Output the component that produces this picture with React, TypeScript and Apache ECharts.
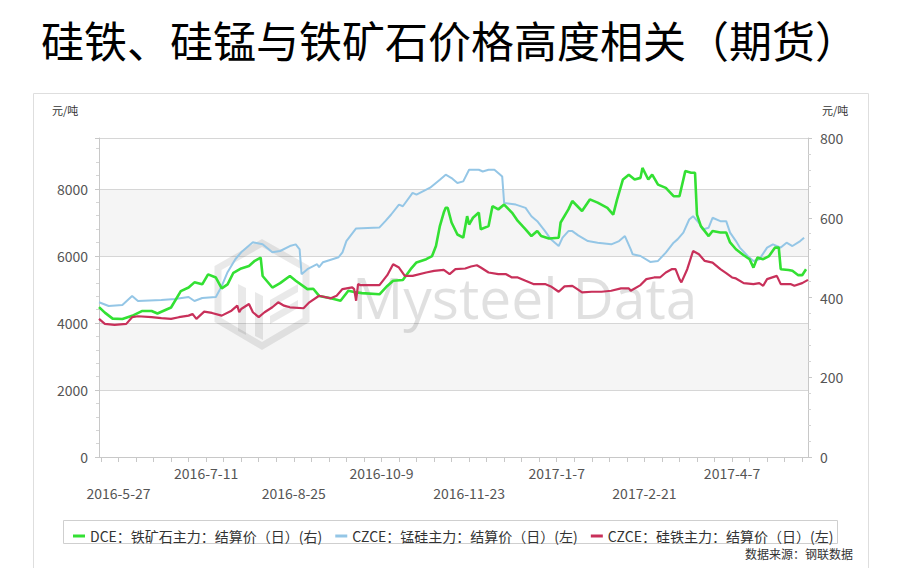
import React, { useEffect, useRef } from 'react';
import * as echarts from 'echarts';

const titleText = '硅铁、硅锰与铁矿石价格高度相关（期货）';
const unitText = '元/吨';
const sourceText = '数据来源：钢联数据';
const watermarkText = 'Mysteel Data';
const axisStartDate = '2016-05-17';
const axisDayCount = 365;
const labelDates = ['2016-5-27', '2016-7-11', '2016-8-25', '2016-10-9', '2016-11-23', '2017-1-7', '2017-2-21', '2017-4-7'];
const lowerRowDates = ['2016-5-27', '2016-8-25', '2016-11-23', '2017-2-21'];
const tickStepDays = 9;

const seriesNames = [
  'DCE：铁矿石主力：结算价（日）(右)',
  'CZCE：锰硅主力：结算价（日）(左)',
  'CZCE：硅铁主力：结算价（日）(左)',
];

// DCE iron ore main contract settlement (right axis)
const ironOre: [string, number][] = [
  ['2016-5-17', 376], ['2016-5-20', 362], ['2016-5-24', 347], ['2016-5-29', 346], ['2016-6-3', 354],
  ['2016-6-8', 366], ['2016-6-13', 366], ['2016-6-16', 360], ['2016-6-23', 375], ['2016-6-28', 416],
  ['2016-7-2', 425], ['2016-7-5', 438], ['2016-7-9', 433], ['2016-7-12', 458], ['2016-7-16', 450],
  ['2016-7-19', 423], ['2016-7-22', 433], ['2016-7-25', 462], ['2016-7-29', 473], ['2016-8-2', 479],
  ['2016-8-5', 492], ['2016-8-8', 500], ['2016-8-9', 454], ['2016-8-14', 425], ['2016-8-18', 436],
  ['2016-8-23', 454], ['2016-8-26', 442], ['2016-9-1', 421], ['2016-9-4', 422], ['2016-9-7', 404],
  ['2016-9-13', 398], ['2016-9-18', 392], ['2016-9-22', 417], ['2016-9-25', 414], ['2016-9-29', 411],
  ['2016-10-8', 408], ['2016-10-12', 429], ['2016-10-15', 442], ['2016-10-20', 444], ['2016-10-24', 471],
  ['2016-10-27', 488], ['2016-11-1', 496], ['2016-11-4', 504], ['2016-11-6', 529], ['2016-11-8', 579],
  ['2016-11-10', 613], ['2016-11-11', 625], ['2016-11-12', 625], ['2016-11-14', 588], ['2016-11-17', 558],
  ['2016-11-20', 550], ['2016-11-22', 604], ['2016-11-23', 583], ['2016-11-25', 600], ['2016-11-28', 613],
  ['2016-11-29', 571], ['2016-12-3', 579], ['2016-12-5', 629], ['2016-12-8', 621], ['2016-12-11', 633],
  ['2016-12-15', 613], ['2016-12-18', 592], ['2016-12-22', 571], ['2016-12-25', 554], ['2016-12-28', 567],
  ['2016-12-30', 554], ['2017-1-3', 548], ['2017-1-8', 550], ['2017-1-9', 588], ['2017-1-13', 621],
  ['2017-1-15', 642], ['2017-1-20', 617], ['2017-1-24', 646], ['2017-1-28', 638], ['2017-2-2', 625],
  ['2017-2-5', 608], ['2017-2-7', 646], ['2017-2-10', 696], ['2017-2-13', 708], ['2017-2-16', 696],
  ['2017-2-19', 700], ['2017-2-20', 725], ['2017-2-23', 696], ['2017-2-25', 708], ['2017-2-28', 683],
  ['2017-3-4', 675], ['2017-3-8', 654], ['2017-3-11', 654], ['2017-3-14', 717], ['2017-3-17', 713],
  ['2017-3-19', 713], ['2017-3-20', 608], ['2017-3-22', 579], ['2017-3-26', 554], ['2017-3-28', 567],
  ['2017-4-1', 563], ['2017-4-4', 563], ['2017-4-6', 538], ['2017-4-9', 521], ['2017-4-13', 506],
  ['2017-4-16', 496], ['2017-4-18', 475], ['2017-4-20', 500], ['2017-4-23', 496], ['2017-4-26', 504],
  ['2017-4-29', 525], ['2017-5-1', 525], ['2017-5-2', 471], ['2017-5-6', 469], ['2017-5-8', 467],
  ['2017-5-11', 456], ['2017-5-13', 456], ['2017-5-15', 471],
];

// CZCE silico-manganese main contract settlement (left axis)
const siliconManganese: [string, number][] = [
  ['2016-5-17', 4617], ['2016-5-22', 4507], ['2016-5-29', 4537], ['2016-6-3', 4804], ['2016-6-6', 4655],
  ['2016-6-18', 4685], ['2016-6-25', 4714], ['2016-7-2', 4774], ['2016-7-5', 4655], ['2016-7-9', 4744],
  ['2016-7-16', 4774], ['2016-7-19', 5100], ['2016-7-22', 5516], ['2016-7-26', 5901], ['2016-7-29', 6109],
  ['2016-8-4', 6406], ['2016-8-9', 6347], ['2016-8-14', 6109], ['2016-8-18', 6148], ['2016-8-23', 6296],
  ['2016-8-26', 6346], ['2016-8-28', 6198], ['2016-8-29', 5456], ['2016-9-1', 5605], ['2016-9-6', 5753],
  ['2016-9-7', 5664], ['2016-9-9', 5813], ['2016-9-17', 5961], ['2016-9-19', 6109], ['2016-9-21', 6444],
  ['2016-9-26', 6821], ['2016-10-8', 6851], ['2016-10-11', 7038], ['2016-10-14', 7237], ['2016-10-18', 7533],
  ['2016-10-20', 7483], ['2016-10-25', 7880], ['2016-10-27', 7830], ['2016-11-3', 8038], ['2016-11-8', 8275],
  ['2016-11-11', 8424], ['2016-11-14', 8325], ['2016-11-17', 8177], ['2016-11-20', 8225], ['2016-11-23', 8572],
  ['2016-11-28', 8572], ['2016-11-30', 8521], ['2016-12-3', 8572], ['2016-12-6', 8572], ['2016-12-9', 8424],
  ['2016-12-10', 8373], ['2016-12-11', 7584], ['2016-12-17', 7533], ['2016-12-22', 7435], ['2016-12-25', 7186],
  ['2016-12-28', 7038], ['2017-1-1', 6741], ['2017-1-4', 6495], ['2017-1-8', 6296], ['2017-1-10', 6545],
  ['2017-1-13', 6741], ['2017-1-15', 6741], ['2017-1-18', 6614], ['2017-1-23', 6444], ['2017-1-28', 6397],
  ['2017-2-4', 6347], ['2017-2-8', 6444], ['2017-2-11', 6593], ['2017-2-14', 6198], ['2017-2-15', 6050],
  ['2017-2-19', 5999], ['2017-2-24', 5821], ['2017-2-28', 5851], ['2017-3-4', 6100], ['2017-3-8', 6397],
  ['2017-3-10', 6495], ['2017-3-13', 6694], ['2017-3-16', 7088], ['2017-3-18', 7186], ['2017-3-21', 6990],
  ['2017-3-23', 6791], ['2017-3-26', 6842], ['2017-3-28', 7139], ['2017-4-1', 7038], ['2017-4-4', 7038],
  ['2017-4-6', 6694], ['2017-4-9', 6444], ['2017-4-11', 6249], ['2017-4-15', 5999], ['2017-4-18', 5851],
  ['2017-4-21', 5901], ['2017-4-25', 6249], ['2017-4-28', 6346], ['2017-5-2', 6249], ['2017-5-5', 6397],
  ['2017-5-8', 6296], ['2017-5-12', 6444], ['2017-5-14', 6545],
];

// CZCE ferro-silicon main contract settlement (left axis)
const ferroSilicon: [string, number][] = [
  ['2016-5-17', 4121], ['2016-5-20', 3973], ['2016-5-25', 3943], ['2016-5-31', 3973], ['2016-6-3', 4172],
  ['2016-6-6', 4201], ['2016-6-13', 4172], ['2016-6-18', 4142], ['2016-6-23', 4121], ['2016-6-27', 4172],
  ['2016-7-2', 4219], ['2016-7-4', 4270], ['2016-7-6', 4121], ['2016-7-10', 4338], ['2016-7-14', 4299],
  ['2016-7-19', 4219], ['2016-7-24', 4367], ['2016-7-27', 4516], ['2016-7-28', 4320], ['2016-7-29', 4418],
  ['2016-8-2', 4566], ['2016-8-4', 4320], ['2016-8-7', 4172], ['2016-8-10', 4320], ['2016-8-14', 4468],
  ['2016-8-17', 4617], ['2016-8-20', 4516], ['2016-8-23', 4468], ['2016-8-30', 4439], ['2016-9-2', 4617],
  ['2016-9-7', 4812], ['2016-9-13', 4735], ['2016-9-16', 4812], ['2016-9-19', 5011], ['2016-9-24', 5062],
  ['2016-9-25', 5011], ['2016-9-26', 4664], ['2016-9-27', 5160], ['2016-9-28', 5130], ['2016-10-8', 5130],
  ['2016-10-12', 5427], ['2016-10-15', 5753], ['2016-10-18', 5655], ['2016-10-21', 5406], ['2016-10-25', 5406],
  ['2016-11-1', 5507], ['2016-11-5', 5554], ['2016-11-10', 5584], ['2016-11-13', 5456], ['2016-11-16', 5605],
  ['2016-11-21', 5625], ['2016-11-24', 5685], ['2016-11-27', 5723], ['2016-11-29', 5655], ['2016-12-3', 5507],
  ['2016-12-8', 5456], ['2016-12-12', 5456], ['2016-12-15', 5358], ['2016-12-18', 5358], ['2016-12-22', 5258],
  ['2016-12-26', 5160], ['2017-1-1', 5160], ['2017-1-4', 5091], ['2017-1-8', 4931], ['2017-1-11', 5091],
  ['2017-1-15', 5109], ['2017-1-17', 5032], ['2017-1-20', 4913], ['2017-1-25', 4931], ['2017-1-30', 4931],
  ['2017-2-4', 4961], ['2017-2-9', 5032], ['2017-2-13', 5032], ['2017-2-14', 4961], ['2017-2-19', 5130],
  ['2017-2-22', 5308], ['2017-2-26', 5358], ['2017-3-1', 5358], ['2017-3-4', 5507], ['2017-3-7', 5605],
  ['2017-3-9', 5605], ['2017-3-11', 5308], ['2017-3-12', 5210], ['2017-3-15', 5605], ['2017-3-18', 6148],
  ['2017-3-21', 6050], ['2017-3-24', 5851], ['2017-3-28', 5803], ['2017-4-1', 5605], ['2017-4-4', 5486],
  ['2017-4-7', 5358], ['2017-4-9', 5329], ['2017-4-13', 5189], ['2017-4-18', 5160], ['2017-4-21', 5189],
  ['2017-4-23', 5109], ['2017-4-25', 5308], ['2017-4-30', 5406], ['2017-5-2', 5160], ['2017-5-7', 5160],
  ['2017-5-9', 5109], ['2017-5-13', 5189], ['2017-5-16', 5287],
];

const leftAxis = { min: 0, max: 9520, interval: 2000 };
const rightAxis = { min: 0, max: 800, interval: 200 };

function buildDays(start: string, n: number): string[] {
  const [y, m, d] = start.split('-').map(Number);
  const out: string[] = [];
  for (let i = 0; i < n; i++) {
    const dt = new Date(Date.UTC(y, m - 1, d + i));
    out.push(`${dt.getUTCFullYear()}-${dt.getUTCMonth() + 1}-${dt.getUTCDate()}`);
  }
  return out;
}

const FONT = '"Noto Sans CJK SC", "Noto Sans", sans-serif';
const WM = 'rgba(0,0,0,0.085)';

export default function App() {
  const ref = useRef<HTMLDivElement>(null);
  useEffect(() => {
    if (!ref.current) return;
    const chart = echarts.init(ref.current, null, { renderer: 'svg' });
    const days = buildDays(axisStartDate, axisDayCount);
    const firstLabelIdx = days.indexOf(labelDates[0]);

    const option: any = {
      animation: false,
      backgroundColor: '#ffffff',
      textStyle: { fontFamily: FONT },
      grid: { left: 99, right: 107, top: 138, bottom: 111, containLabel: false },
      legend: {
        left: 68,
        top: 524,
        icon: 'rect',
        itemWidth: 12,
        itemHeight: 3,
        itemGap: 13,
        textStyle: { fontSize: 14, color: '#333', fontFamily: FONT },
        data: seriesNames,
      },
      xAxis: {
        type: 'category',
        data: days,
        boundaryGap: false,
        axisLine: { lineStyle: { color: '#c8c8c8' } },
        axisTick: {
          show: true,
          length: 5,
          lineStyle: { color: '#c8c8c8' },
          interval: (idx: number) => (((idx - firstLabelIdx) % tickStepDays) + tickStepDays) % tickStepDays === 0,
        },
        axisLabel: {
          interval: (_idx: number, value: string) => labelDates.includes(value),
          formatter: (value: string) => (lowerRowDates.includes(value) ? '\n' + value : value),
          color: '#555',
          fontSize: 14,
          lineHeight: 20,
          margin: 6,
          fontFamily: FONT,
        },
        splitLine: { show: false },
      },
      yAxis: [
        {
          type: 'value',
          position: 'left',
          ...leftAxis,
          axisLine: { show: true, lineStyle: { color: '#c8c8c8' } },
          axisTick: { show: true, length: 4, lineStyle: { color: '#c8c8c8' } },
          minorTick: { show: true, splitNumber: 5, length: 3, lineStyle: { color: '#d5d5d5' } },
          axisLabel: {
            color: '#555',
            fontSize: 14,
            margin: 11,
            showMaxLabel: false,
            fontFamily: FONT,
            formatter: (v: number) => String(v),
          },
          splitLine: { show: true, lineStyle: { color: '#d6d6d6' } },
          splitArea: { show: true, areaStyle: { color: ['#ffffff', '#f5f5f5'] } },
        },
        {
          type: 'value',
          position: 'right',
          ...rightAxis,
          axisLine: { show: true, lineStyle: { color: '#c8c8c8' } },
          axisTick: { show: true, length: 4, lineStyle: { color: '#c8c8c8' } },
          minorTick: { show: true, splitNumber: 5, length: 3, lineStyle: { color: '#d5d5d5' } },
          axisLabel: { color: '#555', fontSize: 14, margin: 12, fontFamily: FONT, formatter: (v: number) => String(v) },
          splitLine: { show: false },
        },
      ],
      series: [
        {
          name: seriesNames[0],
          type: 'line',
          yAxisIndex: 1,
          data: ironOre,
          showSymbol: false,
          color: '#33e033',
          lineStyle: { width: 2.6, color: '#33e033' },
          z: 3,
        },
        {
          name: seriesNames[1],
          type: 'line',
          yAxisIndex: 0,
          data: siliconManganese,
          showSymbol: false,
          color: '#94c6e6',
          lineStyle: { width: 2, color: '#94c6e6' },
          z: 2,
        },
        {
          name: seriesNames[2],
          type: 'line',
          yAxisIndex: 0,
          data: ferroSilicon,
          showSymbol: false,
          color: '#c8305a',
          lineStyle: { width: 2.2, color: '#c8305a' },
          z: 4,
        },
      ],
      graphic: [
        {
          type: 'rect',
          silent: true,
          z: -10,
          shape: { x: 33.5, y: 93.5, width: 835, height: 500 },
          style: { fill: 'none', stroke: '#dedede', lineWidth: 1 },
        },
        {
          type: 'text',
          x: 41,
          y: 39,
          silent: true,
          style: { text: titleText, fontSize: 43, fontFamily: FONT, fill: '#000', align: 'left', verticalAlign: 'middle' },
        },
        {
          type: 'text',
          x: 52,
          y: 110,
          silent: true,
          style: { text: unitText, fontSize: 11, fontFamily: FONT, fill: '#333', align: 'left', verticalAlign: 'middle' },
        },
        {
          type: 'text',
          x: 822,
          y: 110,
          silent: true,
          style: { text: unitText, fontSize: 11, fontFamily: FONT, fill: '#333', align: 'left', verticalAlign: 'middle' },
        },
        {
          type: 'polygon',
          silent: true,
          z: 1,
          shape: { points: [[262, 243], [306, 268], [306, 320], [262, 346], [218, 320], [218, 268]] },
          style: { fill: 'none', stroke: WM, lineWidth: 7 },
        },
        {
          type: 'polygon',
          silent: true,
          z: 1,
          shape: { points: [[238, 284], [246, 288], [246, 335], [238, 331]] },
          style: { fill: WM },
        },
        {
          type: 'polygon',
          silent: true,
          z: 1,
          shape: { points: [[255, 292], [263, 296], [263, 340], [255, 336]] },
          style: { fill: WM },
        },
        {
          type: 'polygon',
          silent: true,
          z: 1,
          shape: { points: [[270, 300], [298, 284], [298, 292], [270, 308]] },
          style: { fill: WM },
        },
        {
          type: 'polygon',
          silent: true,
          z: 1,
          shape: { points: [[270, 316], [298, 300], [298, 308], [270, 324]] },
          style: { fill: WM },
        },
        {
          type: 'text',
          x: 352,
          y: 297,
          silent: true,
          z: 1,
          style: { text: watermarkText, fontSize: 57, fontFamily: '"Open Sans", "Noto Sans", sans-serif', fill: 'rgba(0,0,0,0.12)', align: 'left', verticalAlign: 'middle' },
        },
        {
          type: 'rect',
          silent: true,
          shape: { x: 63.5, y: 520.5, width: 774, height: 23 },
          style: { fill: 'none', stroke: '#cfcfcf', lineWidth: 1 },
        },
        {
          type: 'text',
          x: 853,
          y: 553,
          silent: true,
          style: { text: sourceText, fontSize: 12, fontFamily: FONT, fill: '#333', align: 'right', verticalAlign: 'middle' },
        },
      ],
    };
    chart.setOption(option);
    return () => chart.dispose();
  }, []);
  return (
    <div
      ref={ref}
      style={{ position: 'fixed', left: 0, top: 0, width: 915, height: 568, background: '#fff' }}
    />
  );
}
